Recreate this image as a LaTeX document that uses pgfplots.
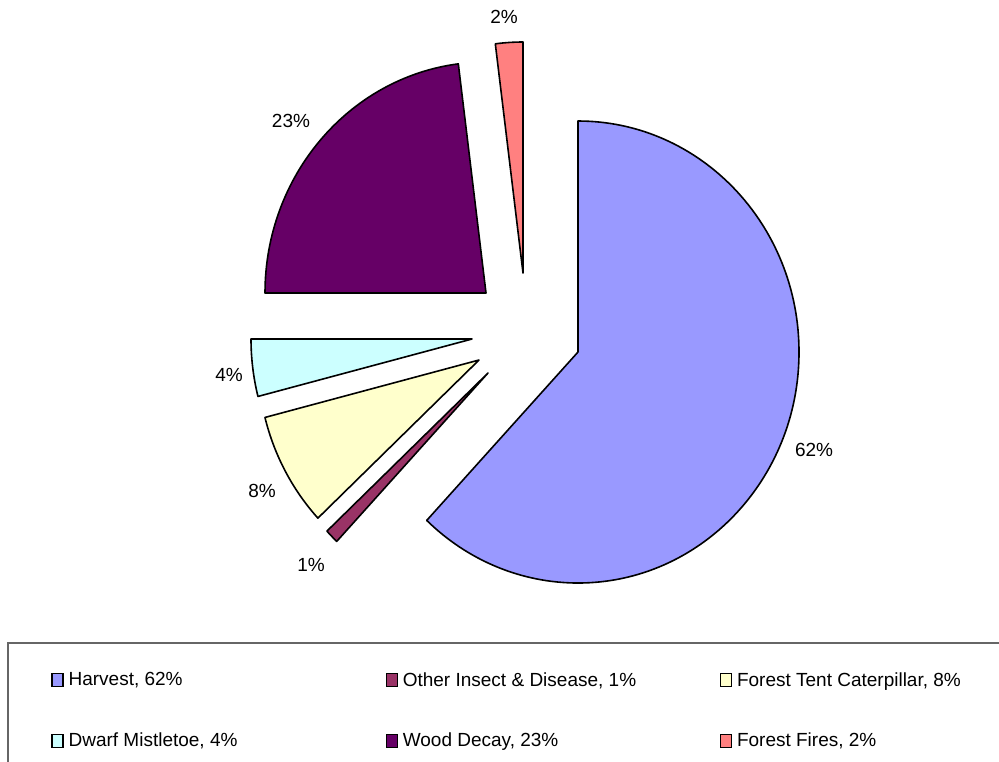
\documentclass[border=0pt]{standalone}
\usepackage{pgfplots}
\usepackage{pgfplotstable}
\pgfplotsset{compat=1.18}
\usepackage{fontspec}
\setmainfont{Liberation Sans}
\definecolor{slice0}{HTML}{9999FF}
\definecolor{slice1}{HTML}{993366}
\definecolor{slice2}{HTML}{FFFFCC}
\definecolor{slice3}{HTML}{CCFFFF}
\definecolor{slice4}{HTML}{660066}
\definecolor{slice5}{HTML}{FF8080}
% value = share in percent; (cx,cy) = apex of the (exploded) slice; (lx,ly) = label position (pixels)
\pgfplotstableread{
value cx  cy  lx  ly
62    578 352 814 450
1     488 373 311 565
8     479 360 262 491
4     472 339 229 375
23    486 293 291 121
2     523 273 504 16.5
}\piedata
\def\rx{110.5pt}
\def\ry{115.5pt}
\gdef\slicecmds{}
\gdef\cumul{0}
\foreach \i in {0,...,5}{%
  \pgfplotstablegetelem{\i}{value}\of\piedata \global\let\v\pgfplotsretval
  \pgfplotstablegetelem{\i}{cx}\of\piedata \global\let\cx\pgfplotsretval
  \pgfplotstablegetelem{\i}{cy}\of\piedata \global\let\cy\pgfplotsretval
  \pgfplotstablegetelem{\i}{lx}\of\piedata \global\let\lx\pgfplotsretval
  \pgfplotstablegetelem{\i}{ly}\of\piedata \global\let\ly\pgfplotsretval
  \pgfmathsetmacro\aS{90-3.6*\cumul}%
  \pgfmathsetmacro\aE{90-3.6*(\cumul+\v)}%
  \pgfmathsetmacro\newcum{\cumul+\v}%
  \xdef\cumul{\newcum}%
  \xdef\slicecmds{\unexpanded\expandafter{\slicecmds}%
    \noexpand\draw[fill=slice\i, draw=black, line width=0.8pt, line join=round]
      (axis cs:\cx,\cy) -- ++(\aS:\rx\space and \ry)
      arc[start angle=\aS, end angle=\aE, x radius=\rx, y radius=\ry] -- cycle;
    \noexpand\node[font=\noexpand\fontsize{9.5}{11}\noexpand\selectfont] at (axis cs:\lx,\ly) {\v\noexpand\%};}%
}
\begin{document}
\begin{tikzpicture}
\begin{axis}[
  width=499.5pt, height=380.5pt, scale only axis,
  xmin=0, xmax=999, ymin=0, ymax=761, y dir=reverse,
  hide axis, clip=false,
  legend columns=3,
  legend cell align=left,
  legend image code/.code={\draw[#1, line width=0.6pt] (0pt,-3pt) rectangle (5.5pt,3.5pt);},
  legend style={at={(axis cs:51,672)}, anchor=north west, draw=none, fill=none,
    inner sep=0pt, font=\fontsize{9.5}{11}\selectfont,
    nodes={inner sep=0pt, text depth=0.15em},
    /tikz/every odd column/.append style={column sep=2.5pt},
    /tikz/row sep=22pt},
]
\slicecmds
\addlegendimage{fill=slice0, draw=black}
\addlegendentry{\makebox[158.5pt][l]{Harvest, 62\%}}
\addlegendimage{fill=slice1, draw=black}
\addlegendentry{\makebox[158.5pt][l]{Other Insect \& Disease, 1\%}}
\addlegendimage{fill=slice2, draw=black}
\addlegendentry{\makebox[158.5pt][l]{Forest Tent Caterpillar, 8\%}}
\addlegendimage{fill=slice3, draw=black}
\addlegendentry{\makebox[158.5pt][l]{Dwarf Mistletoe, 4\%}}
\addlegendimage{fill=slice4, draw=black}
\addlegendentry{\makebox[158.5pt][l]{Wood Decay, 23\%}}
\addlegendimage{fill=slice5, draw=black}
\addlegendentry{\makebox[158.5pt][l]{Forest Fires, 2\%}}
\draw[black!60, line width=0.6pt] (axis cs:1010,643) -- (axis cs:8,643) -- (axis cs:8,780);
\end{axis}
\pgfresetboundingbox
\path[use as bounding box] (0,0) rectangle (499.5pt,380.5pt);
\end{tikzpicture}
\end{document}
